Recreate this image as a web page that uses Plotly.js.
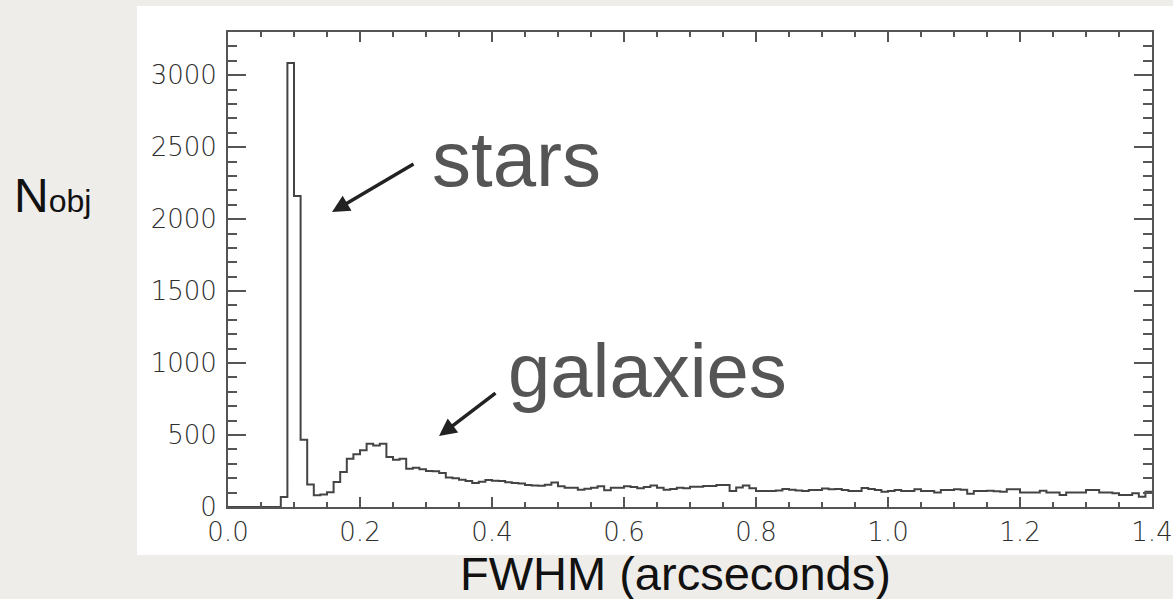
<!DOCTYPE html>
<html><head><meta charset="utf-8">
<script src="https://cdn.plot.ly/plotly-3.0.1.min.js"></script>
<style>html,body{margin:0;padding:0;background:#efedea;} #chart{width:1173px;height:599px;}</style>
</head><body><div id="chart"></div>
<script>
// Histogram of FWHM values (bin left edges start at binStart, width binWidth)
const binStart = 0.08;
const binWidth = 0.01;
const counts = [
  70, 3085, 2160, 468, 157, 81, 86, 102, 174, 243,
  336, 366, 394, 440, 428, 440, 347, 329, 336, 265,
  272, 262, 250, 248, 237, 205, 200, 190, 180, 167,
  176, 188, 183, 180, 172, 167, 164, 152, 150, 148,
  155, 170, 144, 134, 134, 120, 127, 134, 144, 116,
  134, 134, 144, 139, 130, 139, 150, 134, 120, 125,
  134, 130, 141, 141, 146, 146, 153, 153, 111, 135,
  150, 130, 111, 111, 111, 115, 125, 120, 115, 111,
  118, 118, 128, 123, 125, 118, 111, 111, 132, 125,
  118, 106, 112, 118, 111, 111, 123, 111, 111, 100,
  118, 118, 123, 120, 92, 111, 111, 113, 110, 106,
  123, 123, 100, 100, 100, 113, 100, 100, 83, 100,
  100, 100, 118, 118, 100, 100, 95, 83, 83, 95,
  72, 106
];
const xTickVals = [0.0, 0.2, 0.4, 0.6, 0.8, 1.0, 1.2, 1.4];
const xTickText = ["0.0", "0.2", "0.4", "0.6", "0.8", "1.0", "1.2", "1.4"];
const yTickVals = [0, 500, 1000, 1500, 2000, 2500, 3000];
const yTickText = ["0", "500", "1000", "1500", "2000", "2500", "3000"];
const xTitle = "FWHM (arcseconds)";
const yTitle = "N<span style='font-size:32px'>obj</span>";
const labelStars = "stars";
const labelGalaxies = "galaxies";

// build step-line points from bins
const xs = [0];
const ys = [0];
counts.forEach((c, i) => { xs.push(+(binStart + i * binWidth).toFixed(4)); ys.push(c); });
xs.push(+(binStart + counts.length * binWidth).toFixed(4));
ys.push(counts[counts.length - 1]);

const tickFont = {family: "DejaVu Sans", size: 26, color: "#2e2e2e", weight: 200};
const axColor = "#555555";

const trace = {
  type: "scatter", mode: "lines", x: xs, y: ys,
  line: {shape: "hv", color: "#444", width: 2},
  hoverinfo: "skip"
};

const layout = {
  width: 1173, height: 599,
  margin: {l: 228, r: 21, t: 32, b: 92},
  paper_bgcolor: "#efedea",
  plot_bgcolor: "#ffffff",
  showlegend: false,
  xaxis: {
    range: [0, 1.4], tickvals: xTickVals, ticktext: xTickText,
    ticks: "inside", ticklen: 10, tickwidth: 2, tickcolor: axColor,
    minor: {ticks: "inside", dtick: 0.05, ticklen: 5, tickwidth: 2, tickcolor: axColor, showgrid: false},
    showline: true, linecolor: axColor, linewidth: 2, mirror: "allticks",
    showgrid: false, zeroline: false, tickfont: tickFont, ticklabelstandoff: 1,
    ticklabeloverflow: "allow"
  },
  yaxis: {
    range: [0, 3300], tickvals: yTickVals, ticktext: yTickText,
    ticks: "inside", ticklen: 18, tickwidth: 2, tickcolor: axColor,
    minor: {ticks: "inside", dtick: 100, ticklen: 9, tickwidth: 2, tickcolor: axColor, showgrid: false},
    showline: true, linecolor: axColor, linewidth: 2, mirror: "allticks",
    showgrid: false, zeroline: false, tickfont: tickFont, ticklabelstandoff: 4,
    ticklabeloverflow: "allow"
  },
  shapes: [{
    type: "rect", xref: "paper", yref: "paper", layer: "below",
    x0: -0.0985, x1: 1.03, y0: -0.101, y1: 1.055,
    fillcolor: "#ffffff", line: {width: 0}
  }],
  annotations: [
    {xref: "paper", yref: "paper", x: -0.2335, y: 0.655, xanchor: "left", yanchor: "middle",
     text: yTitle, showarrow: false, font: {family: "Liberation Sans", size: 48, color: "#111"}},
    {xref: "paper", yref: "paper", x: 0.484, y: -0.139, xanchor: "center", yanchor: "middle",
     text: xTitle, showarrow: false, font: {family: "Liberation Sans", size: 47, color: "#111"}},
    {xref: "x", yref: "y", x: 0.437, y: 2420, xanchor: "center", yanchor: "middle",
     text: labelStars, showarrow: false, font: {family: "Liberation Sans", size: 78, color: "#555"}},
    {xref: "x", yref: "y", x: 0.636, y: 951, xanchor: "center", yanchor: "middle",
     text: labelGalaxies, showarrow: false, font: {family: "Liberation Sans", size: 76, color: "#555"}},
    {xref: "x", yref: "y", x: 0.1576, y: 2049, ax: 83, ay: -49, axref: "pixel", ayref: "pixel",
     text: "", showarrow: true, arrowhead: 2, arrowsize: 1, arrowwidth: 3.5, arrowcolor: "#222", standoff: 0},
    {xref: "x", yref: "y", x: 0.3197, y: 493, ax: 58, ay: -44, axref: "pixel", ayref: "pixel",
     text: "", showarrow: true, arrowhead: 2, arrowsize: 1, arrowwidth: 3.5, arrowcolor: "#222", standoff: 0}
  ]
};

Plotly.newPlot("chart", [trace], layout, {staticPlot: true, displayModeBar: false});
</script>
</body></html>
